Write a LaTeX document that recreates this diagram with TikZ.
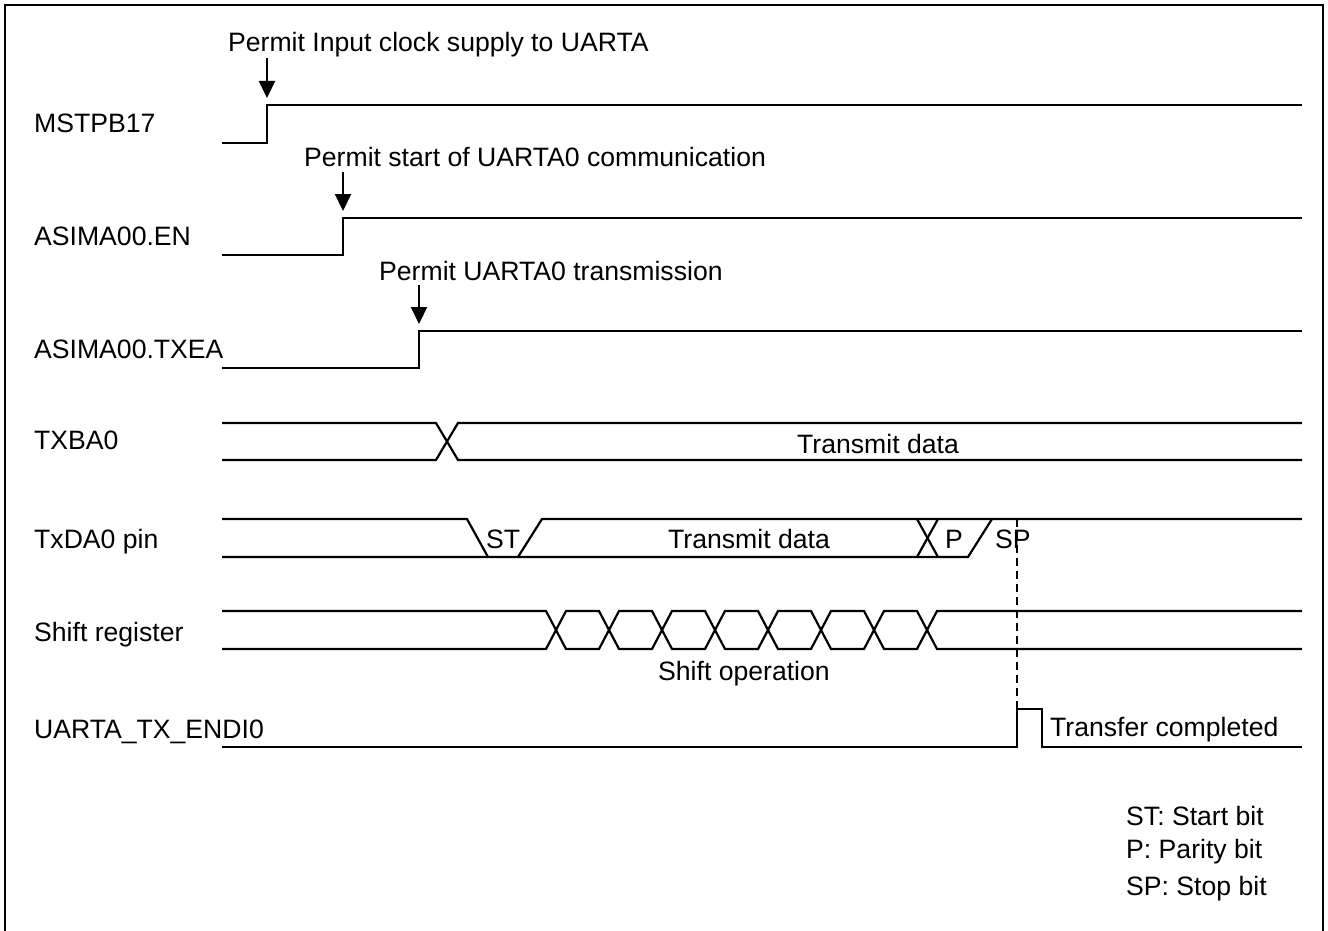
\documentclass[tikz,border=0pt]{standalone}
\usepackage{fontspec}
\setmainfont{Liberation Sans}
\usetikzlibrary{arrows.meta}
\begin{document}
\begin{tikzpicture}[x=1pt,y=-1pt,
  sig/.style={line width=2.2pt, line join=miter},
  lbl/.style={anchor=base west, inner sep=0pt, font=\fontsize{26.6}{30}\selectfont},
  ann/.style={-{Triangle[length=17pt,width=16pt]}, line width=2.2pt},
  dsh/.style={line width=2.2pt, dash pattern=on 8pt off 5pt}]
\useasboundingbox (0,0) rectangle (1328,931);
% frame
\draw[line width=2.5pt] (5,950) -- (5,5) -- (1323,5) -- (1323,950);

% signal names
\node[lbl] (lMST) at (34,132) {MSTPB17};
\node[lbl] (lEN) at (34,245) {ASIMA00.EN};
\node[lbl] (lTXEA) at (34,358) {ASIMA00.TXEA};
\node[lbl] (lTXB) at (34,449) {TXBA0};
\node[lbl] (lTXD) at (34,548) {TxDA0 pin};
\node[lbl] (lSR) at (34,641) {Shift register};
\node[lbl] (lEND) at (34,738) {UARTA\_TX\_ENDI0};

% MSTPB17
\draw[sig] (222,143) -- (267,143) -- (267,105) -- (1302,105);
\node[lbl] (t1) at (228,52) {Permit Input clock supply to UARTA};
\coordinate (a1s) at (267,58); \coordinate (a1e) at (267,98);
\draw[ann] (a1s) -- (a1e);

% ASIMA00.EN
\draw[sig] (222,255) -- (343,255) -- (343,218) -- (1302,218);
\node[lbl] (t2) at (304,167) {Permit start of UARTA0 communication};
\coordinate (a2s) at (343,172); \coordinate (a2e) at (343,211);
\draw[ann] (a2s) -- (a2e);

% ASIMA00.TXEA
\draw[sig] (222,368) -- (419,368) -- (419,331) -- (1302,331);
\node[lbl] (t3) at (379,280) {Permit UARTA0 transmission};
\coordinate (a3s) at (419,285); \coordinate (a3e) at (419,324);
\draw[ann] (a3s) -- (a3e);

% TXBA0
\draw[sig] (222,423) -- (436,423) -- (458,460) -- (1302,460);
\draw[sig] (222,460) -- (436,460) -- (458,423) -- (1302,423);
\node[lbl] (td1) at (797,453) {Transmit data};

% TxDA0 pin
\draw[sig] (222,519) -- (467,519) -- (488,557);
\draw[sig] (222,557) -- (968,557) -- (992,519);
\draw[sig] (518,557) -- (542,519) -- (1302,519);
\draw[sig] (917,519) -- (938,557);
\draw[sig] (917,557) -- (938,519);
\node[lbl] (st) at (486,548) {ST};
\node[lbl] (td2) at (668,548) {Transmit data};
\node[lbl] (p) at (945,548) {P};
\node[lbl] (sp) at (995,548) {SP};

% Shift register
\draw[sig] (222,611) foreach \c in {556,662,768,874} { -- ({\c-10},611) -- ({\c+10},649) -- ({\c+43},649) -- ({\c+63},611) } -- (1302,611);
\draw[sig] (222,649) foreach \c in {556,662,768,874} { -- ({\c-10},649) -- ({\c+10},611) -- ({\c+43},611) -- ({\c+63},649) } -- (1302,649);
\node[lbl] (so) at (658,680) {Shift operation};

% UARTA_TX_ENDI0
\draw[sig] (222,747) -- (1017,747) -- (1017,709) -- (1042,709) -- (1042,747) -- (1302,747);
\node[lbl] (tc) at (1050,736) {Transfer completed};
\coordinate (d1) at (1017,519); \coordinate (d2) at (1017,709);
\draw[dsh] (d1) -- (d2);

% legend
\node[lbl] (g1) at (1126,825) {ST: Start bit};
\node[lbl] (g2) at (1126,858) {P: Parity bit};
\node[lbl] (g3) at (1126,895) {SP: Stop bit};
\end{tikzpicture}
\end{document}
